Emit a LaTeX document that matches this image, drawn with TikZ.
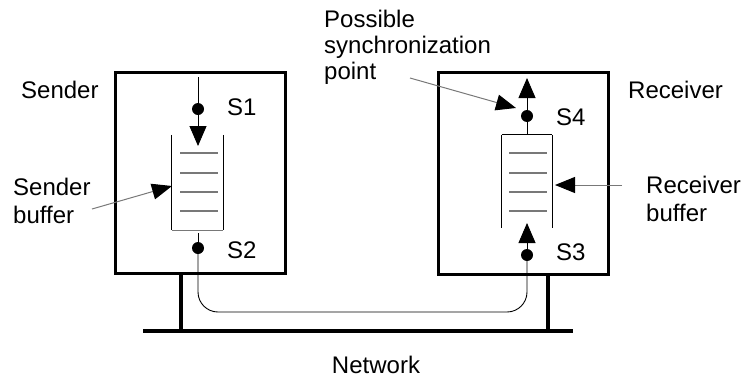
\documentclass[tikz,border=0pt]{standalone}
\usepackage{fontspec}
\setmainfont{Liberation Sans}
\usetikzlibrary{arrows.meta}
\definecolor{lgray}{RGB}{120,120,120}
\begin{document}
\begin{tikzpicture}[x=1pt,y=-1pt,
  lbl/.style={font=\fontsize{24}{26}\selectfont, inner sep=0pt},
  hostbox/.style={draw, line width=3pt},
  dotpt/.style={circle, fill, inner sep=0pt, minimum size=12pt},
  flow/.style={line width=0.9pt},
  tip/.style={-{Triangle[length=20pt,width=17pt]}},
  bufline/.style={lgray, line width=1.2pt},
  netline/.style={line width=4pt}]
\useasboundingbox (0,0) rectangle (749,378);
% host boxes
\node[hostbox, minimum width=170pt, minimum height=201pt, inner sep=0pt] (sbox) at (200,172.5) {};
\node[hostbox, minimum width=170pt, minimum height=202pt, inner sep=0pt] (rbox) at (523,173) {};
% network
\coordinate (nl) at (143,331);
\coordinate (nr) at (573,331);
\draw[netline] (nl) -- (nr);
\coordinate (lleg) at (181,331);
\coordinate (rleg) at (548,331);
\draw[netline] (sbox.south -| lleg) -- (lleg);
\draw[netline] (rbox.south -| rleg) -- (rleg);
% sender buffer
\node[minimum width=51pt, minimum height=95pt, inner sep=0pt] (lbuf) at (197.5,182.5) {};
\draw[flow] (lbuf.north west) -- (lbuf.south west);
\draw[flow] (lbuf.north east) -- (lbuf.south east);
\draw[bufline] (lbuf.south west) -- (lbuf.south east);
\foreach \yy in {153,173,192,211} \draw[bufline] (180,\yy) -- (218,\yy);
% receiver buffer
\node[minimum width=50pt, minimum height=93pt, inner sep=0pt] (rbuf) at (527,181.5) {};
\draw[flow] (rbuf.north west) -- (rbuf.south west);
\draw[flow] (rbuf.north east) -- (rbuf.south east);
\draw[flow] (rbuf.north west) -- (rbuf.north east);
\foreach \yy in {153,173,192,211} \draw[bufline] (509,\yy) -- (547,\yy);
% sender flow
\coordinate (s1top) at (198,77);
\node[dotpt] (s1) at (198,109) {};
\coordinate (s1tip) at (198,146);
\draw[flow] (s1top) -- (s1);
\draw[flow, tip] (s1) -- (s1tip);
\node[dotpt] (s2) at (198,248) {};
\draw[flow] (198,233) -- (s2);
% receiver flow
\node[dotpt] (s3) at (527,255) {};
\coordinate (s3tip) at (527,223);
\draw[flow, tip] (s3) -- (s3tip);
\node[dotpt] (s4) at (527,116) {};
\coordinate (s4tip) at (527,78);
\draw[flow] (rbuf.north) -- (s4);
\draw[flow, tip] (s4) -- (s4tip);
% network path
\draw[flow, rounded corners=20pt] (s2) -- (198,312) -- (527,312) -- (s3);
% labels
\node[lbl, anchor=base west] (t1) at (227,115) {S1};
\node[lbl, anchor=base west] (t2) at (227,258) {S2};
\node[lbl, anchor=base west] (t4) at (556,125) {S4};
\node[lbl, anchor=base west] (t3) at (556,260) {S3};
\node[lbl, anchor=base west] (sender) at (21,98) {Sender};
\node[lbl, anchor=base west] (receiver) at (628,98) {Receiver};
\node[lbl, anchor=base west] (sbuflbl1) at (13,195) {Sender};
\node[lbl, anchor=base west] (sbuflbl2) at (13,223) {buffer};
\node[lbl, anchor=base west] (rbuflbl1) at (646,193) {Receiver};
\node[lbl, anchor=base west] (rbuflbl2) at (646,221) {buffer};
\node[lbl, anchor=base west] (sync1) at (324,27) {Possible};
\node[lbl, anchor=base west] (sync2) at (324,53) {synchronization};
\node[lbl, anchor=base west] (sync3) at (324,79) {point};
\node[lbl, anchor=base] (net) at (376,373) {Network};
% pointer arrows
\coordinate (sbstart) at (92,209);
\coordinate (sbtip) at (172,186);
\draw[lgray, line width=1pt, -{Triangle[length=20pt,width=16pt,color=black]}] (sbstart) -- (sbtip);
\coordinate (rbstart) at (622,185);
\coordinate (rbtip) at (555,185);
\draw[lgray, line width=1pt, -{Triangle[length=20pt,width=16pt,color=black]}] (rbstart) -- (rbtip);
\coordinate (systart) at (410,78);
\coordinate (sytip) at (516,108);
\draw[lgray, line width=1pt, -{Triangle[length=20pt,width=16pt,color=black]}] (systart) -- (sytip);
\end{tikzpicture}
\end{document}
